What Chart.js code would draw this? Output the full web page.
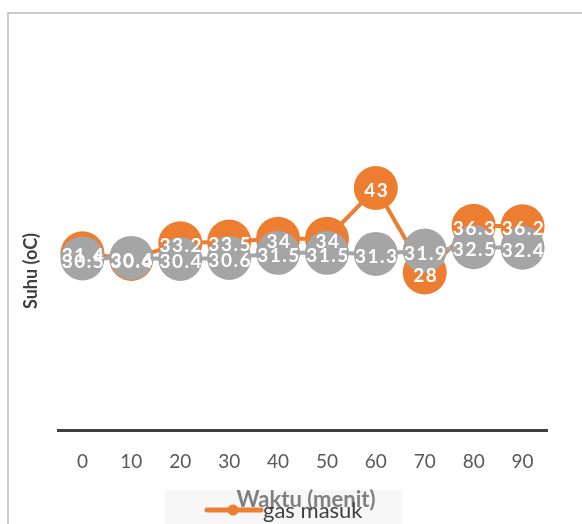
<!DOCTYPE html>
<html>
<head>
<meta charset="utf-8">
<script src="https://cdn.jsdelivr.net/npm/chart.js@4.4.0/dist/chart.umd.min.js"></script>
<style>
  html, body { margin: 0; padding: 0; background: #fff; overflow: hidden; }
  #bingkai { position: absolute; left: 7px; top: 12px; width: 620px; height: 560px;
             border-left: 2px solid #cacaca; border-top: 2px solid #cacaca; }
  #grafik { position: absolute; left: 0; top: 0; }
</style>
</head>
<body>
<div id="bingkai"></div>
<canvas id="grafik" width="582" height="524"></canvas>
<script>
// Data suhu
const waktu = ['0', '10', '20', '30', '40', '50', '60', '70', '80', '90'];
const gasMasuk = [31.4, 30.4, 33.2, 33.5, 34, 34, 43, 28, 36.3, 36.2];
const gasKeluar = [30.5, 30.6, 30.4, 30.6, 31.5, 31.5, 31.3, 31.9, 32.5, 32.4];
const batasY = [0, 70];

const oranye = '#ED7D31';
const abu = '#A5A5A5';

// label angka putih di tengah lingkaran
const labelData = {
  id: 'labelData',
  afterDatasetsDraw(chart) {
    const ctx = chart.ctx;
    ctx.save();
    ctx.font = 'bold 19px Lato';
    ctx.letterSpacing = '1.5px';
    ctx.fillStyle = '#ffffff';
    ctx.textAlign = 'center';
    ctx.textBaseline = 'middle';
    chart.data.datasets.forEach((ds, i) => {
      chart.getDatasetMeta(i).data.forEach((pt, j) => {
        ctx.fillText(String(ds.data[j]), pt.x + 1, pt.y + 3);
      });
    });
    ctx.restore();
  }
};

// judul sumbu + legenda (saling menumpuk seperti aslinya)
const judulLegenda = {
  id: 'judulLegenda',
  afterDraw(chart) {
    const ctx = chart.ctx;
    ctx.save();
    // kotak legenda
    ctx.fillStyle = '#f7f7f7';
    ctx.fillRect(165, 490, 237, 60);

    // judul sumbu x
    ctx.font = 'bold 22px Lato';
    ctx.fillStyle = '#7f7f7f';
    ctx.textAlign = 'center';
    ctx.textBaseline = 'alphabetic';
    ctx.fillText('Waktu (menit)', 306, 507);

    // judul sumbu y
    ctx.save();
    ctx.translate(31, 271);
    ctx.rotate(-Math.PI / 2);
    ctx.font = 'bold 18px Lato';
    ctx.fillStyle = '#404040';
    ctx.textAlign = 'center';
    ctx.textBaseline = 'middle';
    ctx.fillText('Suhu (oC)', 0, 0);
    ctx.restore();

    // entri legenda
    chart.data.datasets.forEach((ds, i) => {
      const y = 510 + i * 28;
      ctx.strokeStyle = ds.borderColor;
      ctx.lineWidth = 5;
      ctx.lineCap = 'round';
      ctx.beginPath();
      ctx.moveTo(207, y);
      ctx.lineTo(261, y);
      ctx.stroke();
      ctx.fillStyle = ds.borderColor;
      ctx.beginPath();
      ctx.arc(233, y, 5.5, 0, Math.PI * 2);
      ctx.fill();
      ctx.font = '22px Lato';
      ctx.fillStyle = '#404040';
      ctx.textAlign = 'left';
      ctx.textBaseline = 'middle';
      ctx.fillText(ds.label, 263, y + 1);
    });
    ctx.restore();
  }
};

const ctx = document.getElementById('grafik').getContext('2d');
new Chart(ctx, {
  type: 'line',
  data: {
    labels: waktu,
    datasets: [
      {
        label: 'gas masuk',
        data: gasMasuk,
        borderColor: oranye,
        backgroundColor: oranye,
        borderWidth: 4,
        pointRadius: 22,
        pointHoverRadius: 22,
        pointBorderWidth: 0,
        pointBackgroundColor: oranye,
        tension: 0,
        clip: false,
        order: 2
      },
      {
        label: 'gas keluar',
        data: gasKeluar,
        borderColor: abu,
        backgroundColor: abu,
        borderWidth: 4,
        pointRadius: 22,
        pointHoverRadius: 22,
        pointBorderWidth: 0,
        pointBackgroundColor: abu,
        tension: 0,
        clip: false,
        order: 1
      }
    ]
  },
  options: {
    responsive: false,
    animation: false,
    events: [],
    layout: { padding: { left: 58, right: 35, top: 36, bottom: 31 } },
    plugins: {
      legend: { display: false },
      tooltip: { enabled: false }
    },
    scales: {
      x: {
        offset: true,
        grid: { color: 'transparent', drawTicks: false },
        border: { display: true, color: '#404040', width: 3 },
        ticks: {
          color: '#595959',
          padding: 20,
          font: { family: 'Lato', size: 19 }
        }
      },
      y: {
        display: false,
        min: batasY[0],
        max: batasY[1]
      }
    }
  },
  plugins: [labelData, judulLegenda]
});
</script>
</body>
</html>
